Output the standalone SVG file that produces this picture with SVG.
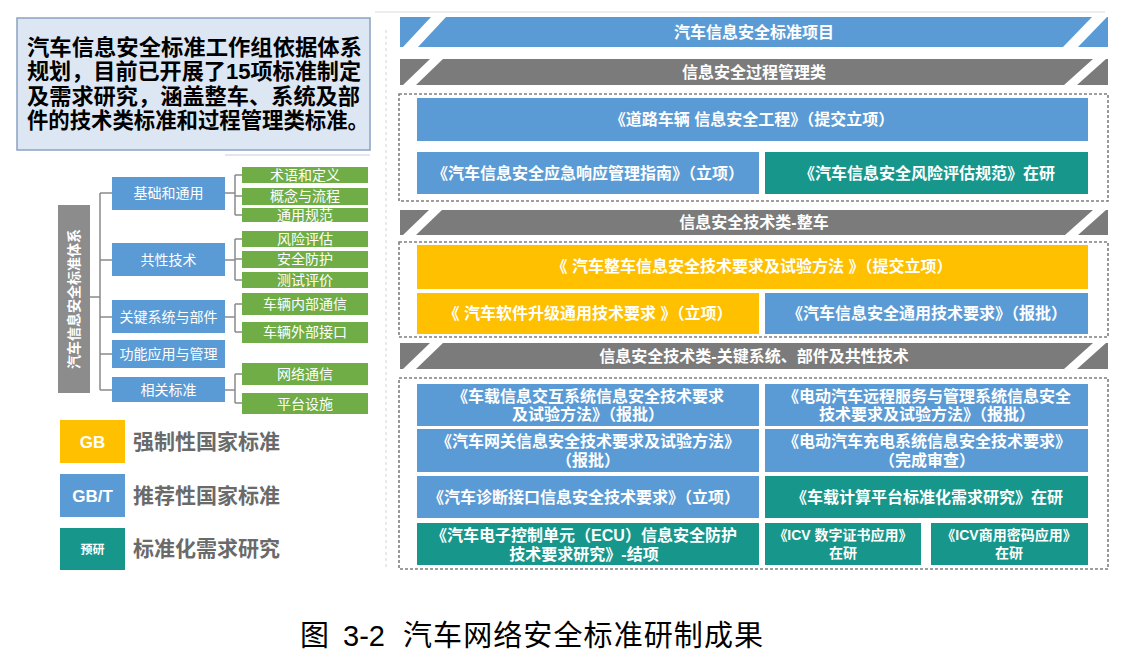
<svg xmlns="http://www.w3.org/2000/svg" width="1127" height="665" viewBox="0 0 1127 665">
<style>
text{font-family:"Liberation Sans","Noto Sans CJK SC",sans-serif;}
.w{fill:#fff;font-weight:bold;text-anchor:middle;}
.f16{font-size:16px;}
.f14{font-size:14px;}
.blue{fill:#5b9bd5;}
.gray{fill:#7b7b7b;}
.teal{fill:#17978c;}
.yel{fill:#ffc000;}
.grn{fill:#70ad47;}
.dot{fill:none;stroke:#7f7f7f;stroke-width:1.6;stroke-dasharray:3 2;}
.stripe{fill:#fff;}
.tw{fill:#fff;font-size:14px;text-anchor:middle;}
.lg{fill:#6a6a6a;font-size:21px;font-weight:bold;}
.con{fill:none;stroke:#8a8a8a;stroke-width:1.5;}
</style>
<rect width="1127" height="665" fill="#fff"/>
<g id="faint">
<line x1="375" y1="12" x2="1105" y2="12" stroke="#e6e6e6" stroke-width="1.5"/>
<line x1="386" y1="30" x2="386" y2="570" stroke="#e2e2e2" stroke-width="1.5" stroke-dasharray="3 3"/>
<line x1="225" y1="155" x2="370" y2="155" stroke="#dcdce8" stroke-width="1.5"/>
</g>
<g id="intro">
<rect x="17" y="18" width="353" height="132" fill="#dde7f4" stroke="#8aa3c2" stroke-width="1.5"/>
<g font-size="22" font-weight="bold" fill="#000">
<text x="27" y="55" textLength="335" lengthAdjust="spacingAndGlyphs">汽车信息安全标准工作组依据体系</text>
<text x="27" y="79" textLength="334" lengthAdjust="spacingAndGlyphs">规划，目前已开展了15项标准制定</text>
<text x="27" y="104" textLength="333" lengthAdjust="spacingAndGlyphs">及需求研究，涵盖整车、系统及部</text>
<text x="27" y="128" textLength="342" lengthAdjust="spacingAndGlyphs">件的技术类标准和过程管理类标准。</text>
</g>
</g>
<g id="tree-connectors">
<path class="con" d="M90 297 H100 M100 193 V390 M100 193 H112 M100 260 H112 M100 317 H112 M100 354 H112 M100 390 H112"/>
<path class="con" d="M225 193 H235 M235 175 V215 M235 175 H242 M235 196 H242 M235 215 H242"/>
<path class="con" d="M225 260 H235 M235 239 V280 M235 239 H242 M235 259 H242 M235 280 H242"/>
<path class="con" d="M225 317 H235 M235 304 V332 M235 304 H242 M235 332 H242"/>
<path class="con" d="M225 390 H235 M235 374 V403 M235 374 H242 M235 403 H242"/>
</g>
<g id="tree-root">
<rect x="58" y="205" width="32" height="188" fill="#8c8c8c"/>
<text class="tw" transform="translate(79 299) rotate(-90)" font-size="15" font-weight="bold">汽车信息安全标准体系</text>
</g>
<g id="tree-l1" >
<rect class="blue" x="112" y="177" width="113" height="33"/><text class="tw" x="168.5" y="198">基础和通用</text>
<rect class="blue" x="112" y="243" width="113" height="33"/><text class="tw" x="168.5" y="265">共性技术</text>
<rect class="blue" x="112" y="300" width="113" height="33"/><text class="tw" x="168.5" y="322">关键系统与部件</text>
<rect class="blue" x="112" y="340" width="113" height="28"/><text class="tw" x="168.5" y="359">功能应用与管理</text>
<rect class="blue" x="112" y="377" width="113" height="25"/><text class="tw" x="168.5" y="395">相关标准</text>
</g>
<g id="tree-l2">
<rect class="grn" x="242" y="167" width="126" height="16"/><text class="tw" x="305" y="180">术语和定义</text>
<rect class="grn" x="242" y="188" width="126" height="17"/><text class="tw" x="305" y="201">概念与流程</text>
<rect class="grn" x="242" y="208" width="126" height="14"/><text class="tw" x="305" y="220">通用规范</text>
<rect class="grn" x="242" y="231" width="126" height="16"/><text class="tw" x="305" y="244">风险评估</text>
<rect class="grn" x="242" y="251" width="126" height="17"/><text class="tw" x="305" y="264">安全防护</text>
<rect class="grn" x="242" y="272" width="126" height="16"/><text class="tw" x="305" y="285">测试评价</text>
<rect class="grn" x="242" y="293" width="126" height="22"/><text class="tw" x="305" y="309">车辆内部通信</text>
<rect class="grn" x="242" y="322" width="126" height="21"/><text class="tw" x="305" y="337">车辆外部接口</text>
<rect class="grn" x="242" y="363" width="126" height="22"/><text class="tw" x="305" y="379">网络通信</text>
<rect class="grn" x="242" y="393" width="126" height="21"/><text class="tw" x="305" y="409">平台设施</text>
</g>
<g id="legend">
<rect class="yel" x="60" y="420" width="65" height="43"/><text class="w" x="92.5" y="448" font-size="17">GB</text>
<text class="lg" x="133" y="449">强制性国家标准</text>
<rect class="blue" x="60" y="474" width="65" height="43"/><text class="w" x="92.5" y="502" font-size="17">GB/T</text>
<text class="lg" x="133" y="503">推荐性国家标准</text>
<rect class="teal" x="60" y="528" width="65" height="42"/><text class="w" x="92.5" y="554" font-size="12">预研</text>
<text class="lg" x="133" y="556">标准化需求研究</text>
</g>
<g id="banner-top">
<rect class="blue" x="400" y="17" width="708" height="30"/>
<polygon class="stripe" points="403,47 418,47 446,17 431,17"/>
<polygon class="stripe" points="1063,47 1078,47 1107,17 1092,17"/>
<text class="w f16" x="754" y="38">汽车信息安全标准项目</text>
</g>
<g id="banner-process">
<rect class="gray" x="400" y="59" width="708" height="26"/>
<polygon class="stripe" points="403,85 416,85 443,59 430,59"/>
<polygon class="stripe" points="1064,85 1077,85 1106,59 1093,59"/>
<text class="w f16" x="754" y="78">信息安全过程管理类</text>
</g>
<g id="group-process">
<rect class="dot" x="399" y="94" width="709" height="107"/>
<rect class="blue" x="417" y="98" width="671" height="43"/>
<text class="w f16" x="752" y="125">《道路车辆 信息安全工程》（提交立项）</text>
<rect class="blue" x="417" y="152" width="342" height="42"/>
<text class="w f16" x="588" y="179">《汽车信息安全应急响应管理指南》（立项）</text>
<rect class="teal" x="765" y="152" width="323" height="42"/>
<text class="w f16" x="927" y="179">《汽车信息安全风险评估规范》在研</text>
</g>
<g id="banner-vehicle">
<rect class="gray" x="400" y="210" width="708" height="25"/>
<polygon class="stripe" points="403,235 416,235 442,210 429,210"/>
<polygon class="stripe" points="1065,235 1078,235 1106,210 1093,210"/>
<text class="w f16" x="754" y="228">信息安全技术类-整车</text>
</g>
<g id="group-vehicle">
<rect class="dot" x="399" y="242" width="709" height="95"/>
<rect class="yel" x="417" y="245" width="671" height="44"/>
<text class="w f16" x="752" y="272">《 汽车整车信息安全技术要求及试验方法 》（提交立项）</text>
<rect class="yel" x="417" y="293" width="342" height="41"/>
<text class="w f16" x="588" y="319">《 汽车软件升级通用技术要求 》（立项）</text>
<rect class="blue" x="765" y="293" width="323" height="41"/>
<text class="w f16" x="927" y="319">《汽车信息安全通用技术要求》（报批）</text>
</g>
<g id="banner-system">
<rect class="gray" x="400" y="343" width="708" height="26"/>
<polygon class="stripe" points="403,369 416,369 443,343 430,343"/>
<polygon class="stripe" points="1064,369 1077,369 1106,343 1093,343"/>
<text class="w f16" x="754" y="362">信息安全技术类-关键系统、部件及共性技术</text>
</g>
<g id="group-system">
<rect class="dot" x="399" y="378" width="709" height="191"/>
<rect class="blue" x="417" y="384" width="342" height="42"/>
<text class="w f16" x="588" y="402">《车载信息交互系统信息安全技术要求</text>
<text class="w f16" x="588" y="420">及试验方法》（报批）</text>
<rect class="blue" x="765" y="384" width="323" height="42"/>
<text class="w f16" x="927" y="402">《电动汽车远程服务与管理系统信息安全</text>
<text class="w f16" x="927" y="420">技术要求及试验方法》（报批）</text>
<rect class="blue" x="417" y="429" width="342" height="43"/>
<text class="w f16" x="588" y="447">《汽车网关信息安全技术要求及试验方法》</text>
<text class="w f16" x="588" y="466">（报批）</text>
<rect class="blue" x="765" y="429" width="323" height="43"/>
<text class="w f16" x="927" y="447">《电动汽车充电系统信息安全技术要求》</text>
<text class="w f16" x="927" y="466">（完成审查）</text>
<rect class="blue" x="417" y="476" width="342" height="42"/>
<text class="w f16" x="584" y="503">《汽车诊断接口信息安全技术要求》（立项）</text>
<rect class="teal" x="765" y="476" width="323" height="42"/>
<text class="w f16" x="927" y="503">《车载计算平台标准化需求研究》在研</text>
<rect class="teal" x="417" y="523" width="342" height="42"/>
<text class="w f16" x="584" y="541">《汽车电子控制单元（ECU）信息安全防护</text>
<text class="w f16" x="584" y="560">技术要求研究》-结项</text>
<rect class="teal" x="765" y="523" width="156" height="42"/>
<text class="w f14" x="843" y="540">《ICV 数字证书应用》</text>
<text class="w f14" x="843" y="558">在研</text>
<rect class="teal" x="931" y="523" width="157" height="42"/>
<text class="w f14" x="1009" y="540">《ICV商用密码应用》</text>
<text class="w f14" x="1009" y="558">在研</text>
</g>
<g id="caption">
<text y="646" font-size="29" fill="#000"><tspan x="300">图</tspan><tspan x="343">3-2</tspan><tspan x="403" textLength="360" lengthAdjust="spacing">汽车网络安全标准研制成果</tspan></text>
</g>
</svg>
